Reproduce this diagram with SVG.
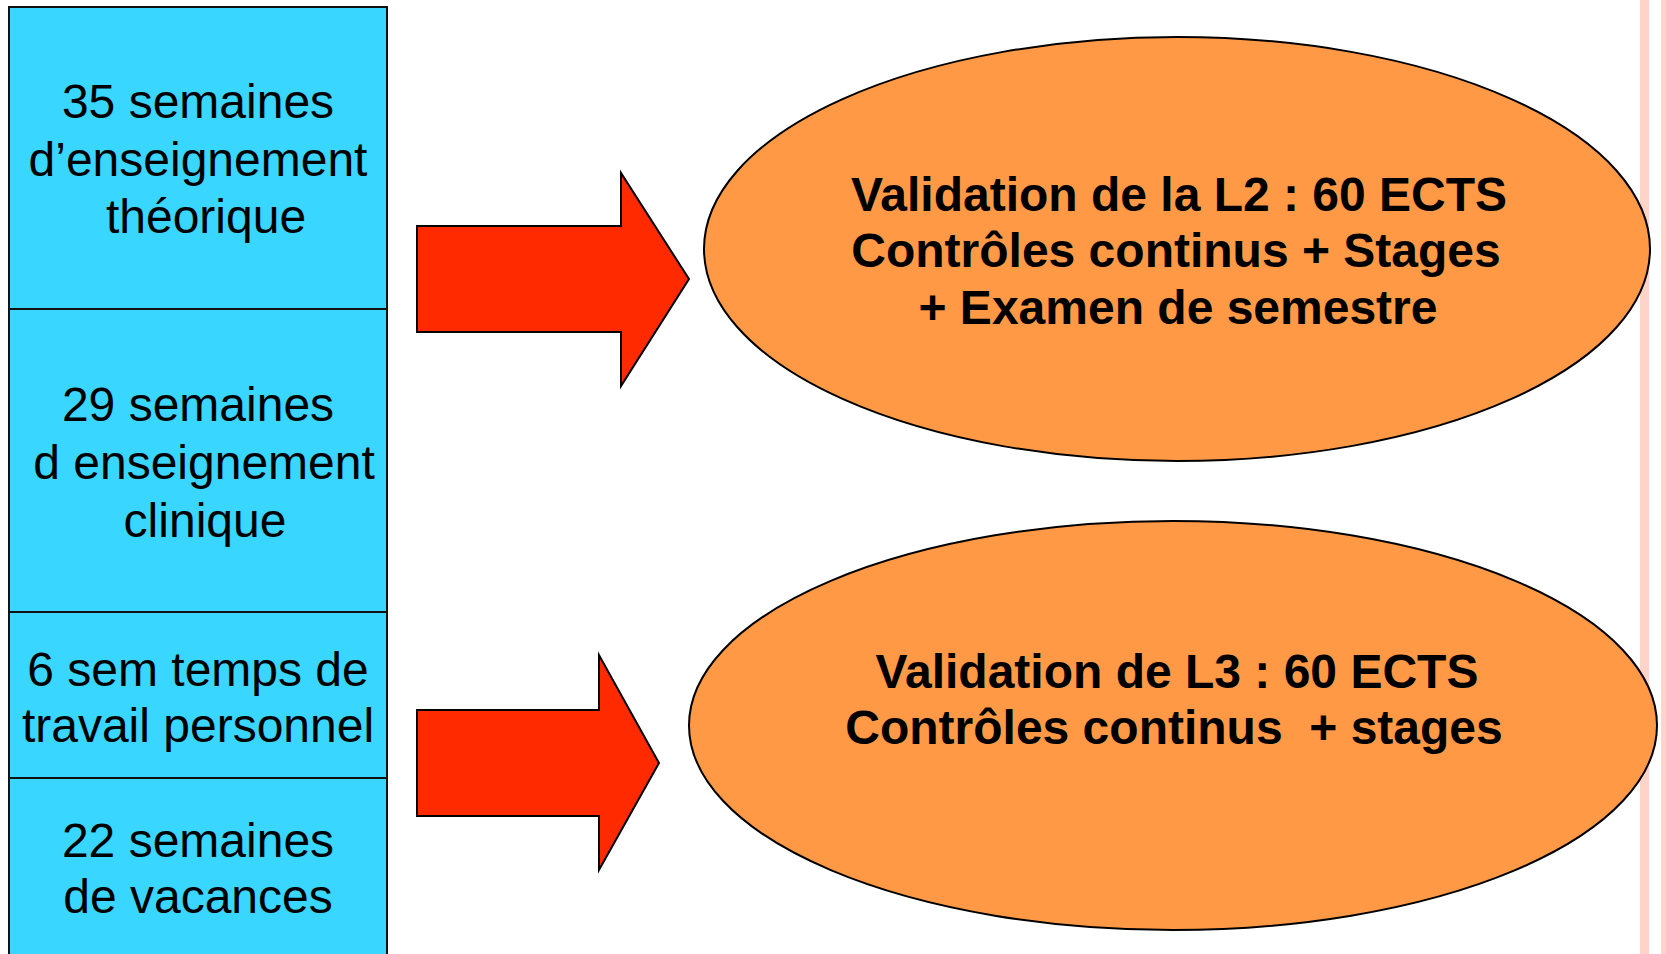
<svg xmlns="http://www.w3.org/2000/svg" width="1666" height="954" viewBox="0 0 1666 954">
<style>
.box{fill:#39d6ff;stroke:#111;stroke-width:2}
.arrow{fill:#ff2a00;stroke:#000;stroke-width:2;stroke-linejoin:miter}
.oval{fill:#ff9946;stroke:#000;stroke-width:2}
.t{font-family:"Liberation Sans",Arial,sans-serif;font-size:48px;fill:#000;text-anchor:middle}
.b{font-weight:bold}
.stripe{fill:#fdd4c7}
</style>
<rect width="1666" height="954" fill="#ffffff"/>
<rect class="stripe" x="1640" y="0" width="9" height="954"/>
<rect class="stripe" x="1661" y="0" width="5" height="954"/>
<g id="box-theorique">
<rect class="box" x="9" y="7" width="378" height="302"/>
<text class="t"><tspan x="198" y="118">35 semaines</tspan><tspan x="198" y="175.5">d’enseignement</tspan><tspan x="206" y="233">théorique</tspan></text>
</g>
<g id="box-clinique">
<rect class="box" x="9" y="309" width="378" height="303"/>
<text class="t"><tspan x="198" y="421">29 semaines</tspan><tspan x="204" y="479">d enseignement</tspan><tspan x="205" y="537">clinique</tspan></text>
</g>
<g id="box-travail">
<rect class="box" x="9" y="612" width="378" height="166"/>
<text class="t"><tspan x="198" y="686">6 sem temps de</tspan><tspan x="198" y="742">travail personnel</tspan></text>
</g>
<g id="box-vacances">
<rect class="box" x="9" y="778" width="378" height="180"/>
<text class="t"><tspan x="198" y="857">22 semaines</tspan><tspan x="198" y="913">de vacances</tspan></text>
</g>
<g id="connectors">
<polygon class="arrow" points="417,226 621,226 621,173 689,279 621,386 621,332 417,332"/>
<polygon class="arrow" points="417,710 599,710 599,655 659,763 599,870 599,816 417,816"/>
</g>
<g id="oval-l2">
<ellipse class="oval" cx="1177" cy="249" rx="473" ry="212"/>
<text class="t b"><tspan x="1179" y="211">Validation de la L2 : 60 ECTS</tspan><tspan x="1176" y="267">Contrôles continus + Stages</tspan><tspan x="1178" y="324">+ Examen de semestre</tspan></text>
</g>
<g id="oval-l3">
<ellipse class="oval" cx="1173" cy="725.5" rx="484" ry="204.5"/>
<text class="t b" style="white-space:pre"><tspan x="1177" y="688">Validation de L3 : 60 ECTS</tspan><tspan x="1174" y="744">Contrôles continus  + stages</tspan></text>
</g>
</svg>
